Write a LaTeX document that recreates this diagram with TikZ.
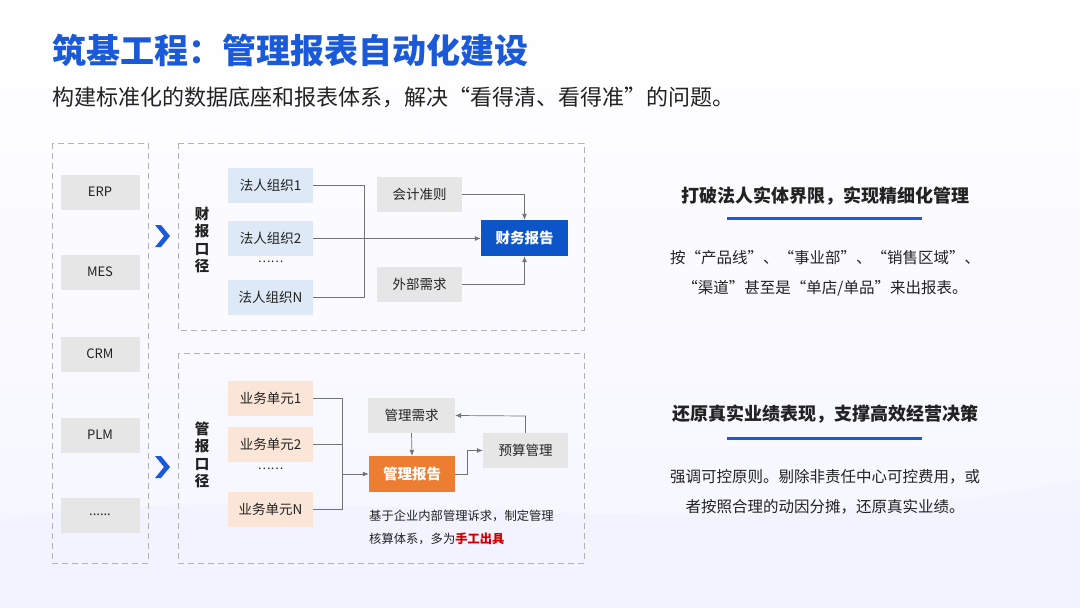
\documentclass[tikz,border=0pt]{standalone}
\usepackage{fontspec}
\setmainfont{Noto Sans CJK SC}
\usetikzlibrary{arrows.meta}
\definecolor{tblue}{HTML}{1A5AD8}
\definecolor{dblue}{HTML}{0B55C8}
\definecolor{ogr}{HTML}{ED7D31}
\definecolor{gbox}{HTML}{E6E6E6}
\definecolor{lbl}{HTML}{DDE9F6}
\definecolor{lor}{HTML}{FBE5D6}
\definecolor{txt}{HTML}{222222}
\begin{document}
\begin{tikzpicture}[x=1pt,y=-1pt,
  every node/.style={text=txt},
  box/.style={draw=none,minimum width=#1,minimum height=35pt,inner sep=0pt,font=\fontsize{13.5}{15}\selectfont},
  gb/.style={box=85pt,fill=gbox},
  sb/.style={box=79pt,fill=gbox,font=\fontsize{13}{15}\selectfont},
  bl/.style={box=85pt,fill=lbl},
  orb/.style={box=85pt,fill=lor},
  dbox/.style={draw=gray!60,line width=0.8pt,dash pattern=on 6pt off 4pt},
  ln/.style={draw=gray!90!black,line width=0.7pt},
  ar/.style={ln,-{Latex[length=6pt,width=5pt]}},
  vlab/.style={font=\fontsize{14.5}{17.5}\bfseries\selectfont,align=center},
  body/.style={font=\fontsize{15.5}{30}\selectfont,align=center}]
\useasboundingbox (0,0) rectangle (1080,608);
\shade[top color=white,bottom color=blue!4] (0,0) rectangle (1080,608);
\fill[blue!5,opacity=0.6] (0,520) .. controls (300,470) and (700,560) .. (1080,480) -- (1080,608) -- (0,608) -- cycle;
% title
\node[anchor=west,inner sep=0pt,text=tblue,font=\fontsize{34}{38}\bfseries\selectfont] (title) at (52,50) {筑基工程：管理报表自动化建设};
\node[anchor=west,inner sep=0pt,font=\fontsize{22}{26}\selectfont] (sub) at (52,97) {构建标准化的数据底座和报表体系，解决“看得清、看得准”的问题。};
% left sources
\draw[dbox] (52,143) rectangle (148,563);
\node[sb] (erp) at (100,192) {ERP};
\node[sb] (mes) at (100,272) {MES};
\node[sb] (crm) at (100,354) {CRM};
\node[sb] (plm) at (100,435) {PLM};
\node[sb] (etc) at (100,515) {......};
% chevrons
\foreach \yy in {236,467}{
  \fill[tblue] (155,\yy-11) -- (161,\yy-11) -- (170,\yy) -- (161,\yy+11) -- (155,\yy+11) -- (164,\yy) -- cycle;}
% top box
\draw[dbox] (178,143) rectangle (584,330);
\node[vlab] (cb) at (202,240) {财\\报\\口\\径};
\node[bl] (f1) at (270.5,185.5) {法人组织1};
\node[bl] (f2) at (270.5,238.5) {法人组织2};
\node[font=\fontsize{12}{14}\selectfont] (fd) at (270.5,262) {……};
\node[bl] (fn) at (270.5,297.5) {法人组织N};
\node[gb] (kj) at (419.5,194.5) {会计准则};
\node[gb] (wb) at (419.5,284.5) {外部需求};
\node[box=87pt,fill=dblue,text=white,font=\fontsize{14.5}{16}\bfseries\selectfont,minimum height=36pt] (cw) at (524.5,238) {财务报告};
\draw[ln] (f1.east) -- (364,185.5) -- (364,297.5) -- (fn.east);
\draw[ar] (f2.east) -- (cw.west|-f2.east);
\draw[ar] (kj.east) -| (cw.north);
\draw[ar] (wb.east) -| (cw.south);
% bottom box
\draw[dbox] (178,353) rectangle (584,563);
\node[vlab] (gbk) at (202,455) {管\\报\\口\\径};
\node[orb] (b1) at (270.5,398) {业务单元1};
\node[orb] (b2) at (270.5,444.5) {业务单元2};
\node[font=\fontsize{12}{14}\selectfont] (bd) at (270.5,469) {……};
\node[orb] (bn) at (270.5,509.5) {业务单元N};
\node[box=87pt,fill=gbox] (xq) at (411.5,415.5) {管理需求};
\node[box=86pt,fill=ogr,text=white,font=\fontsize{14.5}{16}\bfseries\selectfont,minimum height=36pt] (gl) at (412,474) {管理报告};
\node[box=85pt,fill=gbox] (ys) at (525.5,450.5) {预算管理};
\draw[ln] (b1.east) -- (342,398) -- (342,509.5) -- (bn.east);
\draw[ln] (b2.east) -- (342,444.5);
\draw[ar] (342,474) -- (gl.west);
\draw[ar] (xq.south) -- (gl.north);
\draw[ar] (gl.east) -- (467,474) -- (467,450.5) -- (ys.west);
\draw[ar] (ys.north) -- (525.5,416) -- (xq.east);
\node[anchor=north west,inner sep=0pt,font=\fontsize{12.3}{23}\selectfont,align=left] (note) at (369,510) {基于企业内部管理诉求，制定管理\\核算体系，多为{\color{red!80!black}\bfseries 手工出具}};
% right text
\node[font=\fontsize{18}{22}\bfseries\selectfont] (h1) at (825,196) {打破法人实体界限，实现精细化管理};
\draw[tblue,line width=3pt] (727,218) -- (922,218);
\node[body] (t1) at (825,273) {按“产品线”、“事业部”、“销售区域”、\\“渠道”甚至是“单店/单品”来出报表。};
\node[font=\fontsize{18}{22}\bfseries\selectfont] (h2) at (825,414) {还原真实业绩表现，支撑高效经营决策};
\draw[tblue,line width=3pt] (727,438) -- (922,438);
\node[body] (t2) at (825,492) {强调可控原则。剔除非责任中心可控费用，或\\者按照合理的动因分摊，还原真实业绩。};
\end{tikzpicture}
\end{document}
